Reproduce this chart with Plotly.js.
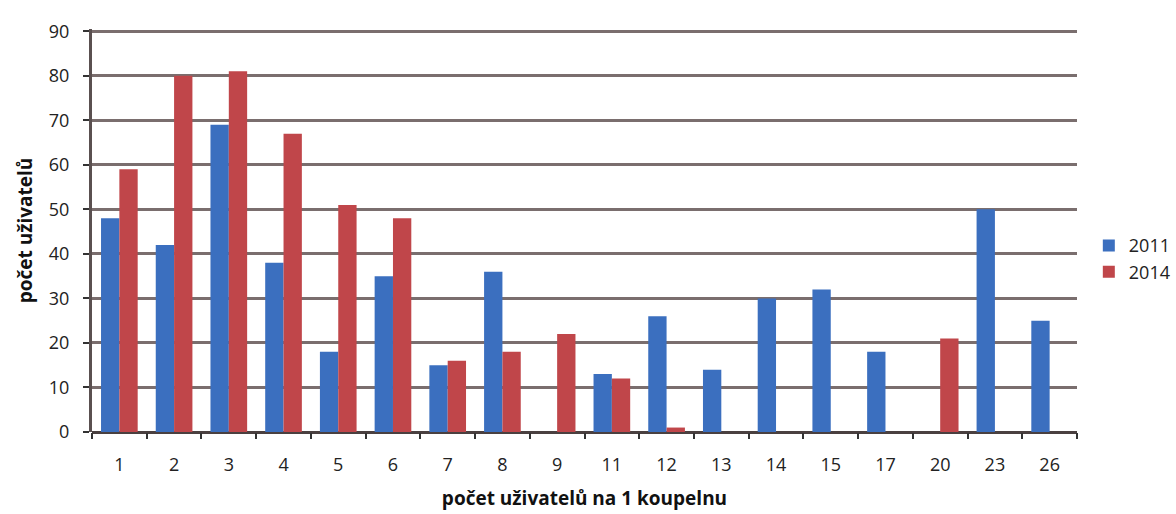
<!DOCTYPE html>
<html>
<head>
<meta charset="utf-8">
<script src="https://cdn.plot.ly/plotly-3.0.1.min.js"></script>
<style>html,body{margin:0;padding:0;background:#fff;}#chart{width:1176px;height:514px;}</style>
</head>
<body>
<div id="chart"></div>
<script>
var categories = ["1","2","3","4","5","6","7","8","9","11","12","13","14","15","17","20","23","26"];
var values2011 = [48,42,69,38,18,35,15,36,0,13,26,14,30,32,18,0,50,25];
var values2014 = [59,80,81,67,51,48,16,18,22,12,1,0,0,0,0,21,0,0];
var seriesNames = ["2011","2014"];
var yTicks = [0,10,20,30,40,50,60,70,80,90];

var font = "Open Sans, Noto Sans, sans-serif";
var traces = [
  {type:"bar", name:seriesNames[0], x:categories, y:values2011, marker:{color:"#3b6fbf", line:{width:0}}},
  {type:"bar", name:seriesNames[1], x:categories, y:values2014, marker:{color:"#c0464a", line:{width:0}}}
];
var layout = {
  width:1176, height:514,
  margin:{l:92, r:99, t:29, b:82, autoexpand:false},
  paper_bgcolor:"#fff", plot_bgcolor:"#fff",
  barmode:"group", bargap:0.33, bargroupgap:0,
  font:{family:font, size:18, color:"#222"},
  showlegend:true,
  legend:{x:1.012, y:0.43, xanchor:"left", yanchor:"middle", font:{size:18, color:"#222"}, tracegroupgap:0, itemwidth:30},
  xaxis:{type:"category", tickson:"boundaries", ticks:"outside", ticklen:6, tickwidth:2, tickcolor:"#333",
    ticklabelstandoff:20,
    showline:false, showgrid:false, tickfont:{size:18, color:"#222"},
    title:{text:"<b>počet uživatelů na 1 koupelnu</b>", font:{size:19, color:"#111"}, standoff:16}},
  yaxis:{range:[0,90.5], tickvals:yTicks, ticks:"outside", ticklen:6, tickwidth:2, tickcolor:"#333",
    ticklabelstandoff:10,
    showline:true, linecolor:"#5a5050", linewidth:3,
    showgrid:true, gridcolor:"#7a6e6e", gridwidth:3, zeroline:true, zerolinecolor:"#4a4040", zerolinewidth:3,
    tickfont:{size:18, color:"#222"},
    title:{text:"<b>počet uživatelů</b>", font:{size:19, color:"#111"}, standoff:12}}
};
Plotly.newPlot("chart", traces, layout, {displayModeBar:false, staticPlot:true});
</script>
</body>
</html>
